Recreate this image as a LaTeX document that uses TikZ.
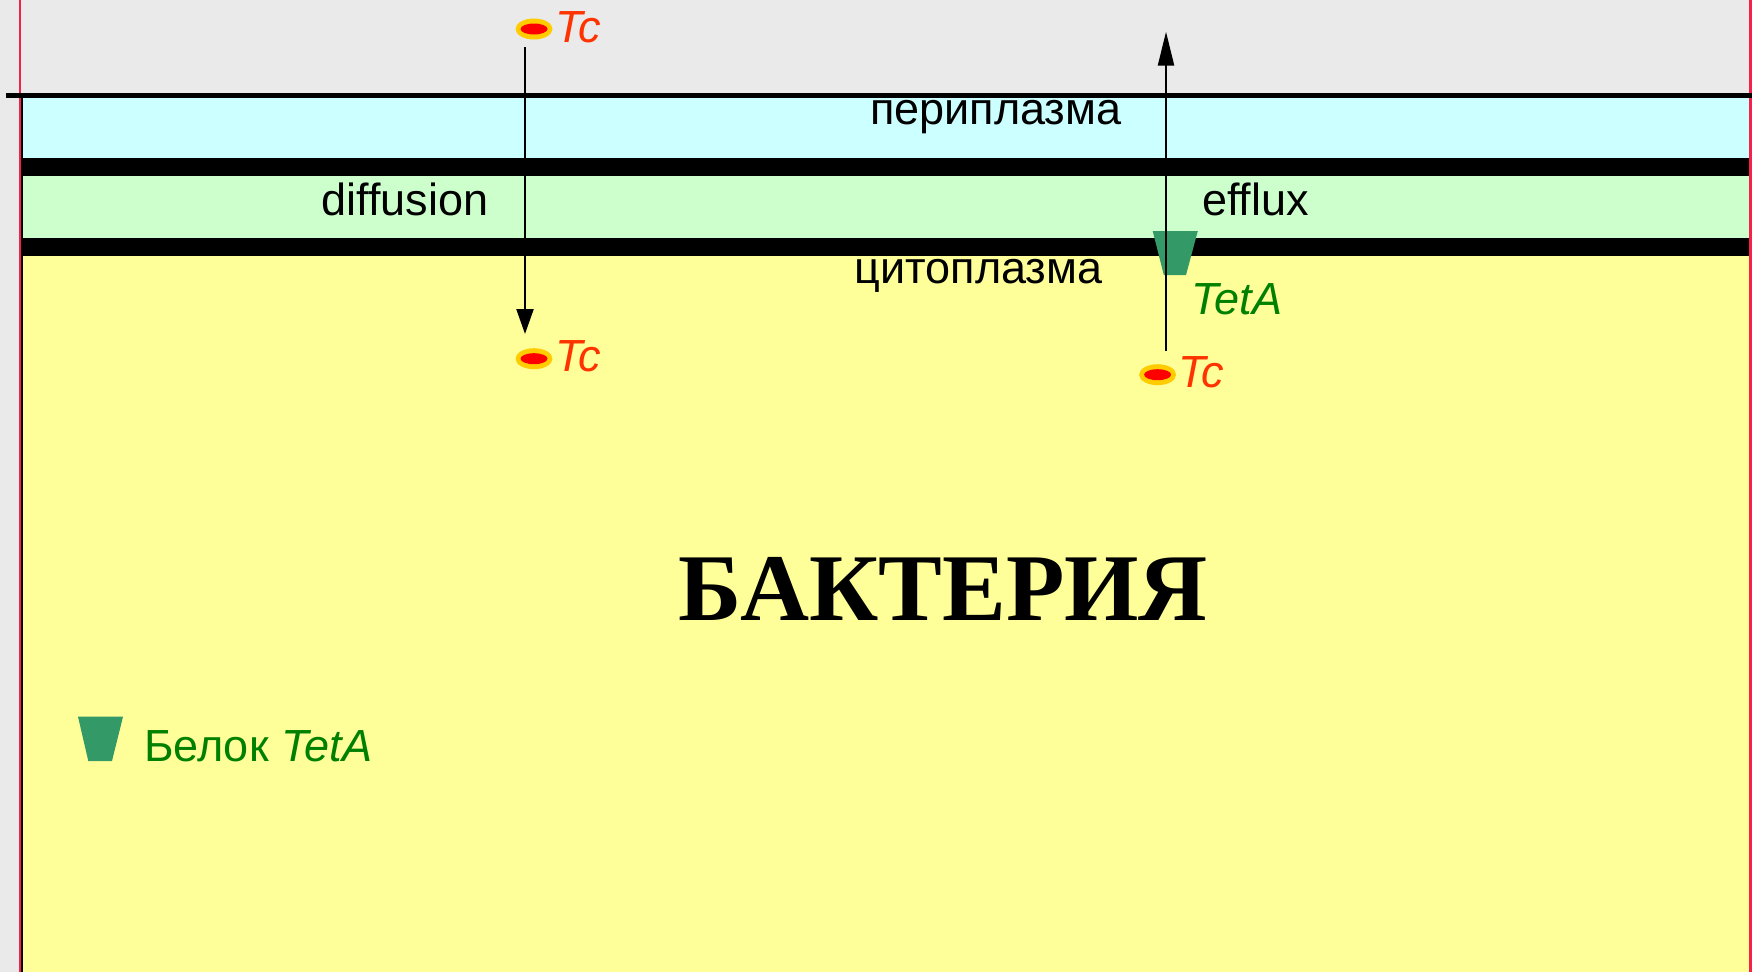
\documentclass[tikz,border=0pt]{standalone}
\usepackage{fontspec}
\setmainfont{Liberation Sans}
\newfontfamily\titlefont{Liberation Serif}
\usetikzlibrary{arrows.meta,shapes.geometric}
\definecolor{bgc}{HTML}{EAEAEA}
\definecolor{cyanc}{HTML}{CCFFFF}
\definecolor{greenc}{HTML}{CCFFCC}
\definecolor{yellowc}{HTML}{FFFF99}
\definecolor{tcc}{HTML}{FF3300}
\definecolor{ringc}{HTML}{FFCC00}
\definecolor{protc}{HTML}{339966}
\definecolor{textg}{HTML}{008000}
\definecolor{edgec}{HTML}{F4214A}
\tikzset{
  lab/.style={anchor=base west,inner sep=0pt,font=\fontsize{45}{54}\selectfont},
  tclab/.style={lab,text=tcc,font=\fontsize{45}{54}\selectfont\itshape},
  tetlab/.style={lab,text=textg},
  ring/.style={ellipse,fill=ringc,minimum width=37pt,minimum height=21pt,inner sep=0pt},
  core/.style={ellipse,fill=red,minimum width=27pt,minimum height=11pt,inner sep=0pt},
  flow/.style={line width=2.3pt,draw=black},
}
\begin{document}
\begin{tikzpicture}[x=1pt,y=-1pt]
\useasboundingbox (0,0) rectangle (1752,972);
\fill[bgc] (0,0) rectangle (1752,972);
\fill[cyanc] (22,97) rectangle (1749,158);
\fill[greenc] (22,176) rectangle (1749,238);
\fill[yellowc] (22,256) rectangle (1749,972);
\fill[black] (22,158) rectangle (1749,176);
\fill[black] (22,238) rectangle (1749,256);
% page edges
\fill[edgec] (18.6,0) rectangle (21,972);
\fill[black] (20.8,97) rectangle (22.7,972);
\fill[edgec] (1749,0) rectangle (1752,972);
\fill[black] (6,92.5) rectangle (1752,97.5);
% protein
\fill[protc] (1152.7,231) -- (1197.8,231) -- (1186,275) -- (1163.8,275) -- cycle;
\fill[protc] (78,716.7) -- (123,716.7) -- (112,761) -- (88.3,761) -- cycle;
% molecules
\node[ring] (tc1) at (534,29) {};
\node[core] at (tc1.center) {};
\node[ring] (tc2) at (534,358.7) {};
\node[core] at (tc2.center) {};
\node[ring] (tc3) at (1157.6,374.7) {};
\node[core] at (tc3.center) {};
% arrows
\coordinate (a1s) at (525,47);
\coordinate (a1e) at (525,334);
\coordinate (a2s) at (1166,351);
\coordinate (a2e) at (1166,31.7);
\draw[flow,-{Triangle[length=25pt,width=17pt]}] (a1s) -- (a1e);
\draw[flow,-{Triangle[length=34pt,width=16pt]}] (a2s) -- (a2e);
% labels
\node[tclab] (t1) at (555,42.5) {Tc};
\node[tclab] (t2) at (555,371) {Tc};
\node[tclab] (t3) at (1178,387) {Tc};
\node[lab] (peri) at (870,124) {периплазма};
\node[lab] (cyto) at (854.5,283) {цитоплазма};
\node[lab] (diff) at (321.5,215) {diffusion};
\node[lab] (effl) at (1202,215) {efflux};
\node[tetlab,font=\fontsize{45}{54}\selectfont\itshape] (teta) at (1191,314.3) {TetA};
\node[tetlab] (bel) at (144,761.7) {Белок \textit{TetA}};
\node[anchor=base west,inner sep=0pt,font=\fontsize{95.6}{110}\selectfont\bfseries\titlefont] (bak) at (678,620) {БАКТЕРИЯ};
\end{tikzpicture}
\end{document}
